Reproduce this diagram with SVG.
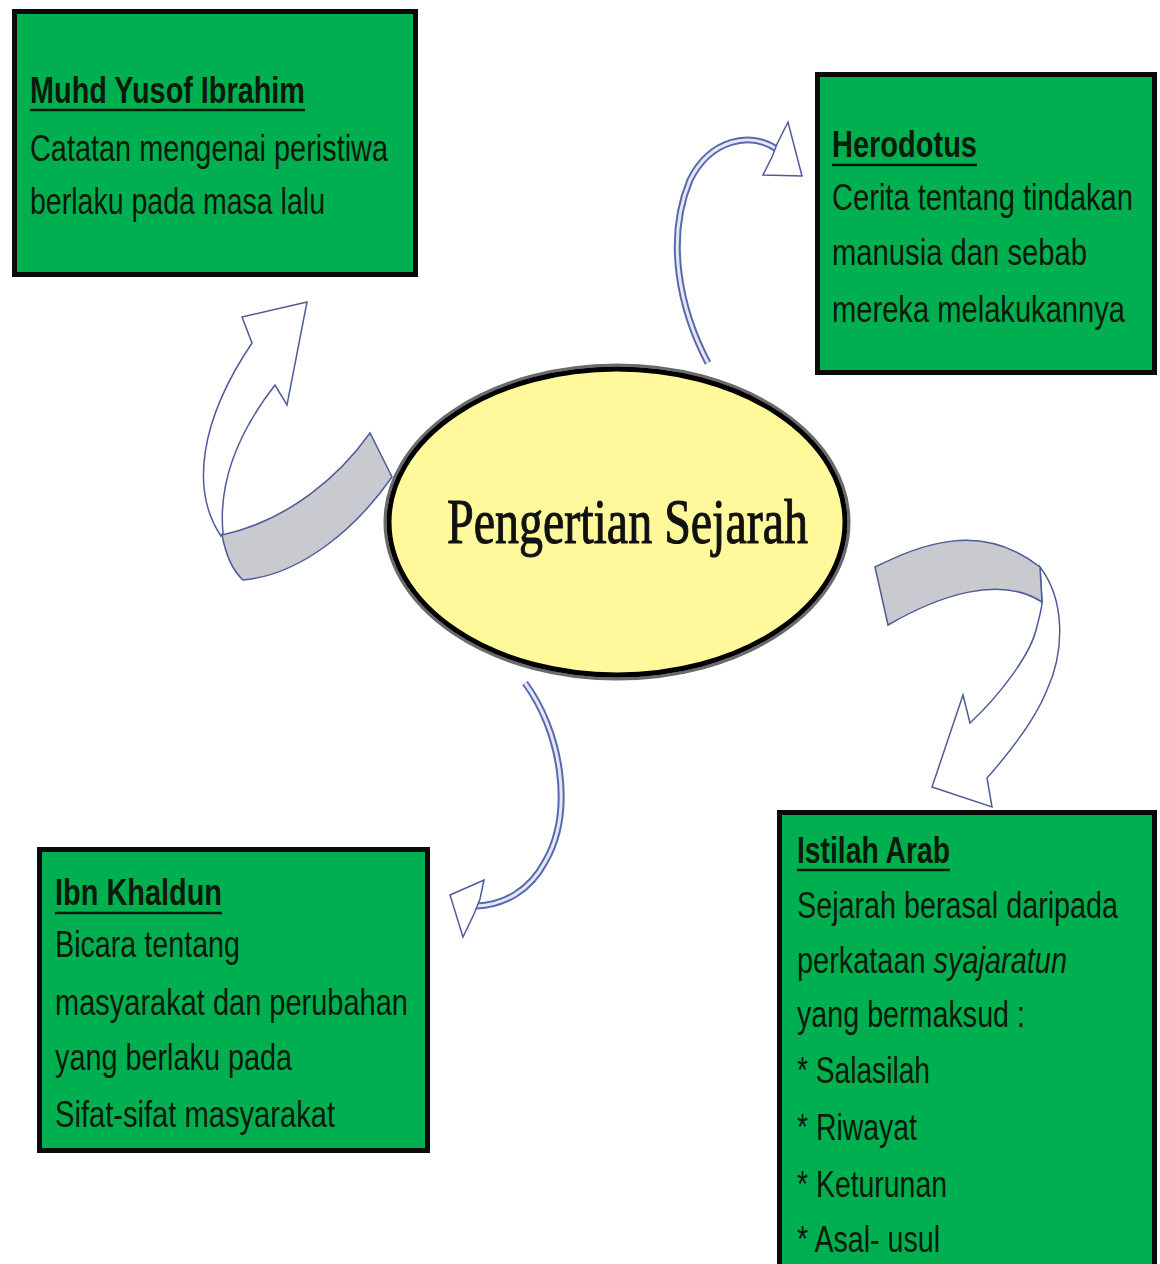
<svg xmlns="http://www.w3.org/2000/svg" width="1160" height="1264" viewBox="0 0 1160 1264">
<style>
.box{fill:#00B050;stroke:#0a0a0a;stroke-width:5}
.t{font-family:"Liberation Sans",Arial,sans-serif;font-size:37px;fill:#0c1a0c}
.h{font-family:"Liberation Sans",Arial,sans-serif;font-size:36px;font-weight:bold;fill:#0c1a0c}
.ul{stroke:#0c1a0c;stroke-width:2.5}
.rib{fill:#ffffff;stroke:#4d5c99;stroke-width:1.5;stroke-linejoin:miter}
.gray{fill:#c9cacf;stroke:#4d5c99;stroke-width:1.5}
.shaftO{fill:none;stroke:#5a69ad;stroke-width:7}
.shaftI{fill:none;stroke:#e4e8f6;stroke-width:3}
</style>
<rect width="1160" height="1264" fill="#ffffff"/>

<g id="connectors">
  <g id="arrow-muhd">
    <path class="rib" d="M 221,536 C 190,490 200,420 252,343 L 242,317 L 307,302 L 287,405 L 275,385 C 240,430 218,480 223,533 Z"/>
    <path class="gray" d="M 370,433 C 340,475 290,520 222,535 C 226,556 232,570 243,580 C 300,575 355,530 392,477 Z"/>
  </g>
  <g id="arrow-herodotus">
    <path class="shaftO" d="M 708,363 C 680,310 665,240 690,180 C 710,140 750,130 778,150"/>
    <path class="shaftI" d="M 708,363 C 680,310 665,240 690,180 C 710,140 750,130 778,150"/>
    <path class="rib" d="M 777,144 L 788,122 L 802,176 L 763,175 L 772,157 Z"/>
  </g>
  <g id="arrow-istilah">
    <path class="rib" d="M 1040,567 C 1065,600 1065,650 1047,690 C 1035,720 1010,752 987,778 L 992,807 L 932,787 L 963,695 L 970,723 C 1000,695 1030,655 1036,630 C 1040,615 1042,608 1042,602 Z"/>
    <path class="gray" d="M 875,567 C 920,545 980,520 1040,567 L 1042,602 C 1000,575 940,595 888,625 Z"/>
  </g>
  <g id="arrow-ibn">
    <path class="shaftO" d="M 525,683 C 560,730 575,810 545,862 C 530,890 505,905 476,906"/>
    <path class="shaftI" d="M 525,683 C 560,730 575,810 545,862 C 530,890 505,905 476,906"/>
    <path class="rib" d="M 480,899 L 484,880 L 450,895 L 463,937 L 474,914 Z"/>
  </g>
</g>

<g id="node-center">
  <ellipse cx="617" cy="522" rx="232" ry="157" fill="none" stroke="#6a6a6a" stroke-width="3"/>
  <ellipse cx="617" cy="522" rx="228" ry="153" fill="#FFF99C" stroke="#000" stroke-width="5"/>
  <text x="447" y="543" textLength="361" lengthAdjust="spacingAndGlyphs" font-family="'Liberation Serif','Times New Roman',serif" font-size="64" fill="#111" stroke="#111" stroke-width="1.1">Pengertian Sejarah</text>
</g>

<g id="node-muhd">
  <rect class="box" x="14.5" y="11.5" width="401" height="263"/>
  <text class="h" x="30" y="103" textLength="275" lengthAdjust="spacingAndGlyphs">Muhd Yusof Ibrahim</text>
  <line class="ul" x1="30" y1="110" x2="305" y2="110"/>
  <text class="t" x="30" y="161" textLength="358" lengthAdjust="spacingAndGlyphs">Catatan mengenai peristiwa</text>
  <text class="t" x="30" y="214" textLength="295" lengthAdjust="spacingAndGlyphs">berlaku pada masa lalu</text>
</g>

<g id="node-herodotus">
  <rect class="box" x="817.5" y="74.5" width="337" height="298"/>
  <text class="h" x="832" y="157" textLength="145" lengthAdjust="spacingAndGlyphs">Herodotus</text>
  <line class="ul" x1="832" y1="165" x2="977" y2="165"/>
  <text class="t" x="832" y="210" textLength="301" lengthAdjust="spacingAndGlyphs">Cerita tentang tindakan</text>
  <text class="t" x="832" y="265" textLength="255" lengthAdjust="spacingAndGlyphs">manusia dan sebab</text>
  <text class="t" x="832" y="322" textLength="293" lengthAdjust="spacingAndGlyphs">mereka melakukannya</text>
</g>

<g id="node-ibn">
  <rect class="box" x="39.5" y="849.5" width="388" height="301"/>
  <text class="h" x="55" y="905" textLength="167" lengthAdjust="spacingAndGlyphs">Ibn Khaldun</text>
  <line class="ul" x1="55" y1="913" x2="222" y2="913"/>
  <text class="t" x="55" y="957" textLength="185" lengthAdjust="spacingAndGlyphs">Bicara tentang</text>
  <text class="t" x="55" y="1015" textLength="353" lengthAdjust="spacingAndGlyphs">masyarakat dan perubahan</text>
  <text class="t" x="55" y="1070" textLength="237" lengthAdjust="spacingAndGlyphs">yang berlaku pada</text>
  <text class="t" x="55" y="1127" textLength="280" lengthAdjust="spacingAndGlyphs">Sifat-sifat masyarakat</text>
</g>

<g id="node-istilah">
  <rect class="box" x="779.5" y="812.5" width="375" height="480"/>
  <text class="h" x="797" y="863" textLength="153" lengthAdjust="spacingAndGlyphs">Istilah Arab</text>
  <line class="ul" x1="797" y1="870" x2="950" y2="870"/>
  <text class="t" x="797" y="918" textLength="321" lengthAdjust="spacingAndGlyphs">Sejarah berasal daripada</text>
  <text class="t" x="797" y="973" textLength="270" lengthAdjust="spacingAndGlyphs">perkataan <tspan font-style="italic">syajaratun</tspan></text>
  <text class="t" x="797" y="1027" textLength="228" lengthAdjust="spacingAndGlyphs">yang bermaksud :</text>
  <text class="t" x="797" y="1083" textLength="133" lengthAdjust="spacingAndGlyphs">* Salasilah</text>
  <text class="t" x="797" y="1140" textLength="120" lengthAdjust="spacingAndGlyphs">* Riwayat</text>
  <text class="t" x="797" y="1197" textLength="150" lengthAdjust="spacingAndGlyphs">* Keturunan</text>
  <text class="t" x="797" y="1252" textLength="143" lengthAdjust="spacingAndGlyphs">* Asal- usul</text>
</g>
</svg>
